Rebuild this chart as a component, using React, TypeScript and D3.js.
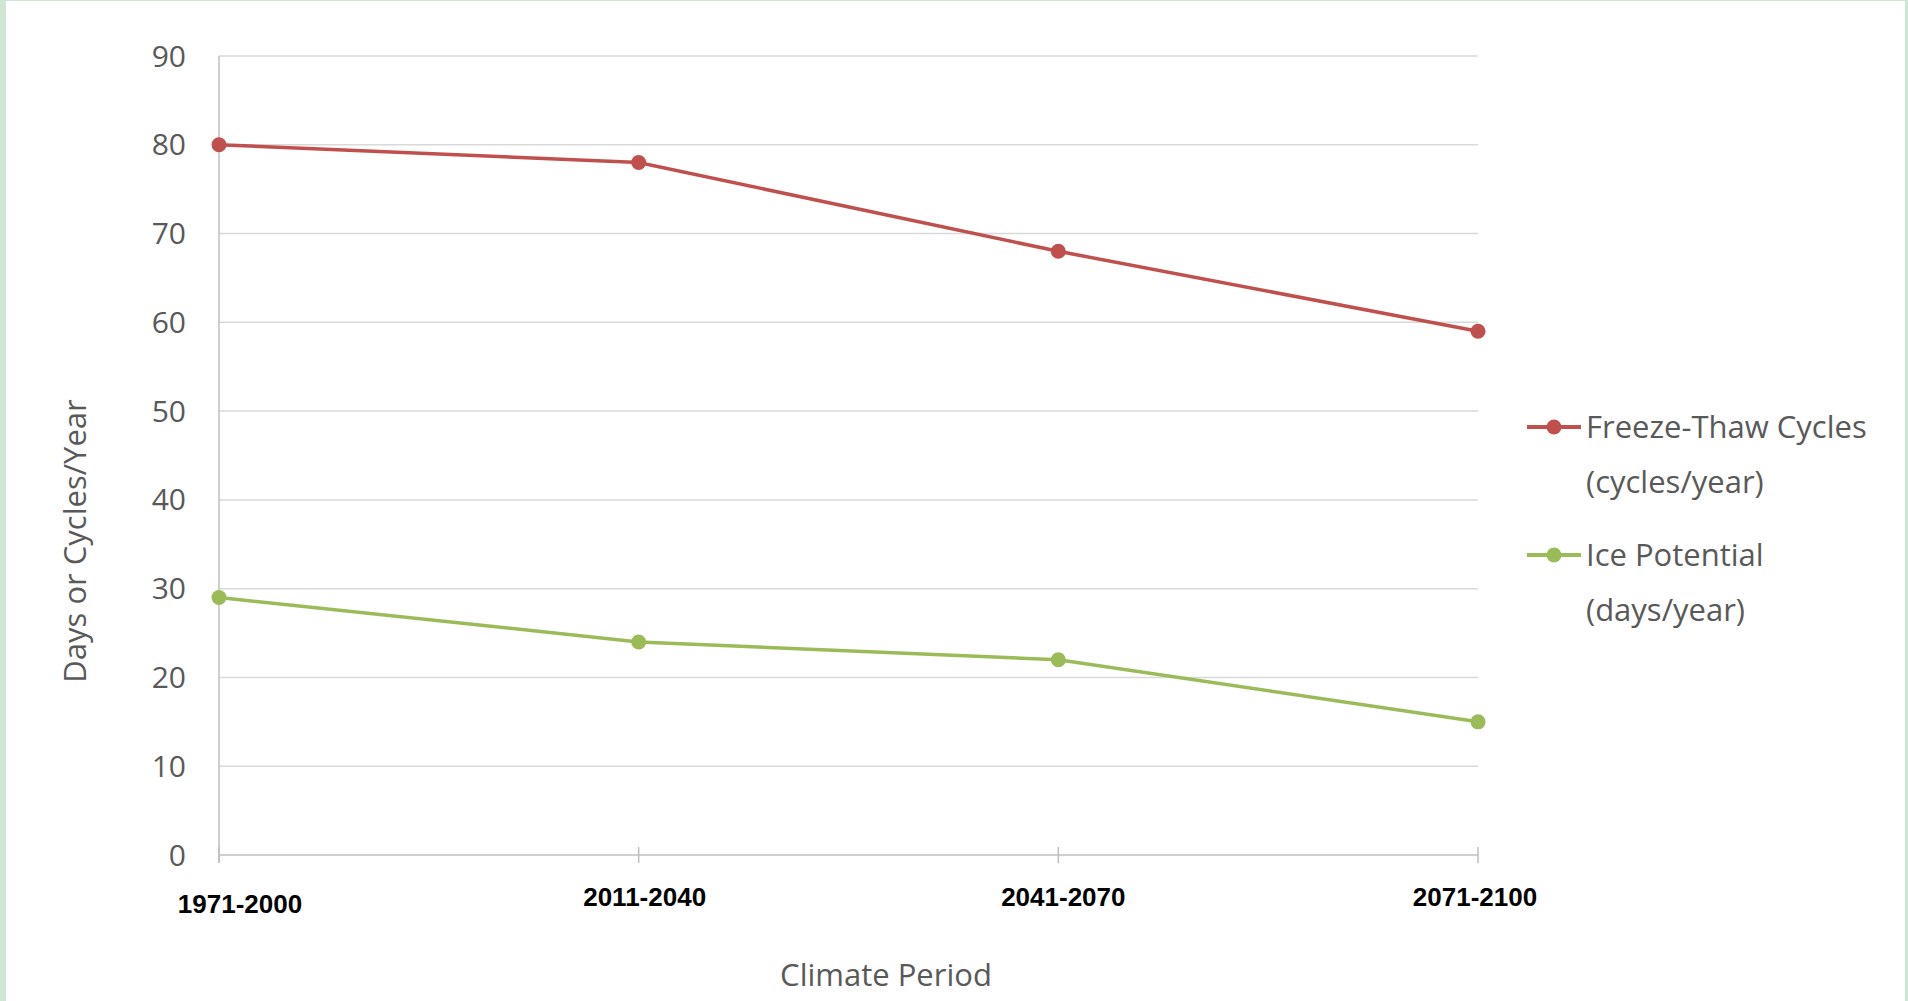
import React from "react";
import * as d3 from "d3";

const categories = ["1971-2000", "2011-2040", "2041-2070", "2071-2100"];
const freezeThaw = [80, 78, 68, 59];
const icePotential = [29, 24, 22, 15];
const yTicks = [0, 10, 20, 30, 40, 50, 60, 70, 80, 90];
const seriesNames = [
  ["Freeze-Thaw Cycles", "(cycles/year)"],
  ["Ice Potential", "(days/year)"],
];

const W = 1908;
const H = 1001;
const FONT = "'Open Sans', 'Noto Sans', sans-serif";
const RED = "#C0504D";
const GREEN = "#9BBB59";
const TEXT = "#595959";

export default function App() {
  const x = d3.scalePoint<string>().domain(categories).range([219, 1478]);
  const y = d3.scaleLinear().domain([0, 90]).range([855, 56]);
  const line = d3
    .line<number>()
    .x((_, i) => x(categories[i]) as number)
    .y((d) => y(d));

  const series = [
    { values: freezeThaw, color: RED },
    { values: icePotential, color: GREEN },
  ];
  const x0 = x.range()[0];
  const x1 = x.range()[1];
  // label offsets (as in the original rendering)
  const labelDx = [21, 6, 5, -3];
  const labelBase = [913, 906, 906, 906];
  const legendY = [427, 555];

  return (
    <div style={{ position: "absolute", left: 0, top: 0, width: W, height: H }}>
      <svg width={W} height={H} style={{ display: "block" }}>
        <rect x={0} y={0} width={W} height={H} fill="#CFE6D5" />
        <rect x={6} y={1} width={1899} height={H - 1} fill="#FFFFFF" />
        {/* gridlines */}
        {yTicks.map((t) => (
          <line
            key={t}
            x1={x0}
            x2={x1}
            y1={y(t)}
            y2={y(t)}
            stroke={t === 0 ? "#BFBFBF" : "#D9D9D9"}
            strokeWidth={1.5}
          />
        ))}
        {/* y axis line */}
        <line x1={x0} x2={x0} y1={y(90)} y2={863} stroke="#BFBFBF" strokeWidth={1.5} />
        {/* x ticks */}
        {categories.map((c) => (
          <line
            key={c}
            x1={x(c) as number}
            x2={x(c) as number}
            y1={847}
            y2={863}
            stroke="#BFBFBF"
            strokeWidth={1.5}
          />
        ))}
        {/* y tick labels */}
        {yTicks.map((t) => (
          <text
            key={t}
            x={186}
            y={y(t)}
            dy="0.35em"
            textAnchor="end"
            fontFamily={FONT}
            fontSize={30}
            fill={TEXT}
          >
            {t}
          </text>
        ))}
        {/* x labels */}
        {categories.map((c, i) => (
          <text
            key={c}
            x={(x(c) as number) + labelDx[i]}
            y={labelBase[i]}
            textAnchor="middle"
            fontFamily="'Liberation Sans', Arial, sans-serif"
            fontWeight="bold"
            fontSize={26}
            fill="#000000"
          >
            {c}
          </text>
        ))}
        {/* axis titles */}
        <text
          x={886}
          y={975}
          dy="0.35em"
          textAnchor="middle"
          fontFamily={FONT}
          fontSize={31}
          fill={TEXT}
        >
          Climate Period
        </text>
        <text
          transform={`translate(75,541) rotate(-90)`}
          dy="0.35em"
          textAnchor="middle"
          fontFamily={FONT}
          fontSize={31}
          fill={TEXT}
        >
          Days or Cycles/Year
        </text>
        {/* series */}
        {series.map((s, si) => (
          <g key={si}>
            <path d={line(s.values) || ""} fill="none" stroke={s.color} strokeWidth={3.5} />
            {s.values.map((v, i) => (
              <circle key={i} cx={x(categories[i]) as number} cy={y(v)} r={7.5} fill={s.color} />
            ))}
          </g>
        ))}
        {/* legend */}
        {series.map((s, si) => (
          <g key={si}>
            <line x1={1527} x2={1581} y1={legendY[si]} y2={legendY[si]} stroke={s.color} strokeWidth={4} />
            <circle cx={1554} cy={legendY[si]} r={7.5} fill={s.color} />
            <text x={1586} y={legendY[si]} dy="0.35em" fontFamily={FONT} fontSize={31} fill={TEXT}>
              {seriesNames[si][0]}
            </text>
            <text x={1586} y={legendY[si] + 55} dy="0.35em" fontFamily={FONT} fontSize={31} fill={TEXT}>
              {seriesNames[si][1]}
            </text>
          </g>
        ))}
      </svg>
    </div>
  );
}
